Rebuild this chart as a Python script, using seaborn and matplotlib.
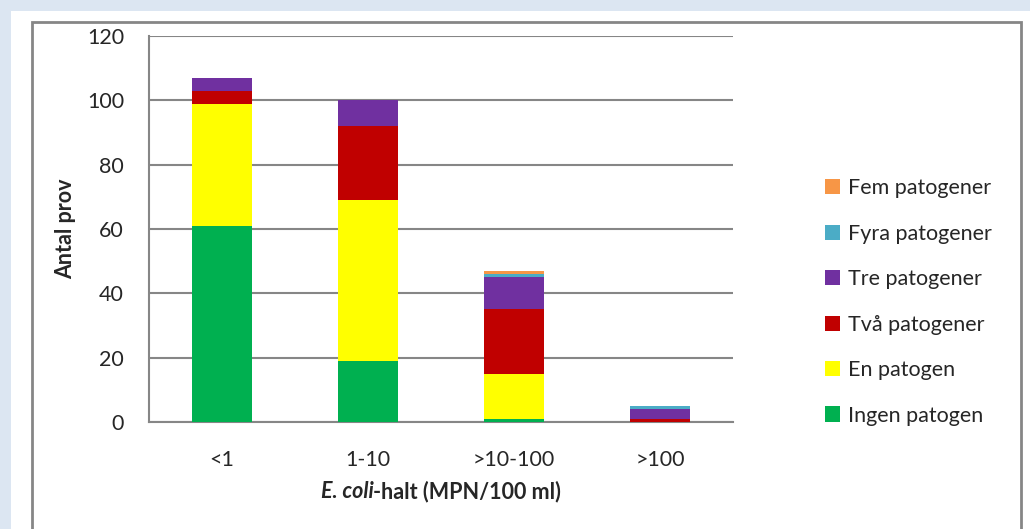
import matplotlib
matplotlib.use("Agg")
import matplotlib.pyplot as plt
import seaborn as sns
import numpy as np
import pandas as pd
from matplotlib.patches import Rectangle, Patch

categories = ["<1", "1-10", ">10-100", ">100"]
series_names = ["Ingen patogen", "En patogen", "Två patogener", "Tre patogener", "Fyra patogener", "Fem patogener"]
ingen = [61, 19, 1, 0]
en = [38, 50, 14, 0]
tva = [4, 23, 20, 1]
tre = [4, 8, 10, 3]
fyra = [0, 0, 1, 1]
fem = [0, 0, 1, 0]
colors = ["#00b050", "#ffff00", "#c00000", "#7030a0", "#4bacc6", "#f79646"]
yticks = [0, 20, 40, 60, 80, 100, 120]

sns.set_style("white")
plt.rcParams['font.family'] = ['Lato', 'DejaVu Sans']

FS = 15.5
W, H = 1030, 529
fig = plt.figure(figsize=(W / 100, H / 100), dpi=100)
fig.patch.set_facecolor("#dce6f2")
fig.patches.append(Rectangle((11 / W, 0), 1, (H - 11) / H, transform=fig.transFigure,
                             facecolor="white", edgecolor="none", zorder=-10))
fig.patches.append(Rectangle((32 / W, -0.05), (1021 - 32) / W, (H - 22) / H + 0.05,
                             transform=fig.transFigure, facecolor="none",
                             edgecolor="#868686", lw=2, zorder=-9))

ax = fig.add_axes([149 / W, (H - 422) / H, (733 - 149) / W, (422 - 36) / H])
ax.set_facecolor("none")

series = [ingen, en, tva, tre, fyra, fem]
cum = np.cumsum(np.array(series, dtype=float), axis=0)
for i in range(len(series) - 1, -1, -1):
    df = pd.DataFrame({"cat": categories, "val": cum[i]})
    sns.barplot(data=df, x="cat", y="val", order=categories, color=colors[i],
                width=0.41, saturation=1, ax=ax, edgecolor="none", zorder=3 + (len(series) - i))

ax.set_ylim(0, 120)
ax.set_xlim(-0.5, 3.5)
ax.set_yticks(yticks)
ax.set_yticklabels([str(v) for v in yticks], fontsize=FS)
ax.set_xticks([-0.5, 0.5, 1.5, 2.5, 3.5], minor=False)
ax.set_xticklabels([])
ax.set_xticks(range(len(categories)), minor=True)
ax.set_xticklabels(categories, minor=True, fontsize=FS)
ax.tick_params(axis="x", which="minor", length=0, pad=20)
ax.tick_params(axis="x", which="major", length=6, width=1.5, color="#868686", direction="out")
ax.tick_params(axis="y", length=6, width=1.5, color="#868686", direction="out", pad=12)
ax.grid(axis="y", color="#868686", lw=1.5, zorder=0)
ax.set_axisbelow(True)
for s in ["top", "right"]:
    ax.spines[s].set_visible(False)
for s in ["left", "bottom"]:
    ax.spines[s].set_color("#868686")
    ax.spines[s].set_linewidth(1.5)
ax.set_xlabel("")
ax.set_ylabel("Antal prov", fontsize=FS, fontweight="bold", labelpad=8)

# x label with italic part
fig.canvas.draw()
r = fig.canvas.get_renderer()
ytxt = (H - 492) / H
t1 = fig.text(0, ytxt, "E. coli", fontsize=FS, fontweight="bold", style="italic", va="center", ha="left")
t2 = fig.text(0, ytxt, "-halt (MPN/100 ml)", fontsize=FS, fontweight="bold", va="center", ha="left")
w1 = t1.get_window_extent(r).width
w2 = t2.get_window_extent(r).width
cx = 441
x0 = cx - (w1 + w2) / 2
t1.set_x(x0 / W)
t2.set_x((x0 + w1) / W)

handles = [Patch(facecolor=colors[i], edgecolor="none", label=series_names[i])
           for i in range(len(series) - 1, -1, -1)]
fig.legend(handles=handles, loc="center left", bbox_to_anchor=(806 / W, (H - 302) / H),
           frameon=False, fontsize=FS, handlelength=0.7, handleheight=0.7,
           handletextpad=0.35, labelspacing=1.18)

fig.savefig("out.png", dpi=100, facecolor=fig.get_facecolor())
